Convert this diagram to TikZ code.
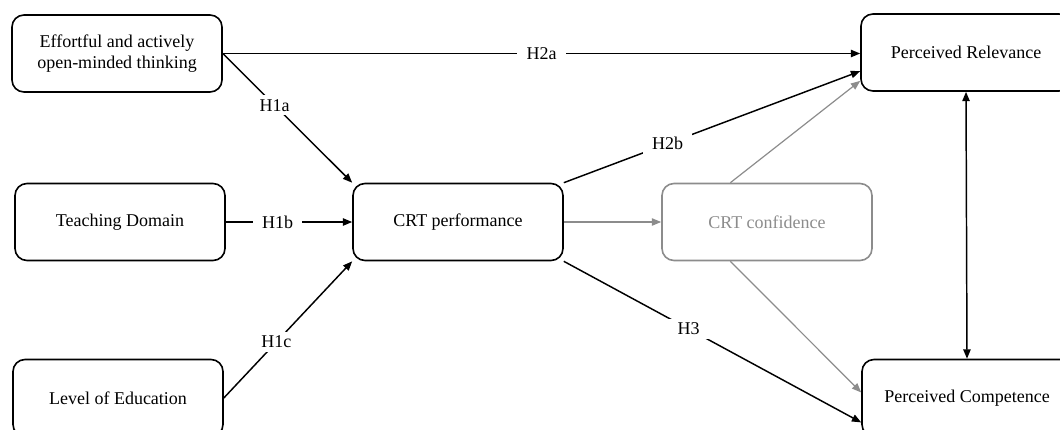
\documentclass[tikz,border=0pt]{standalone}
\usepackage{fontspec}
\setmainfont{Liberation Serif}
\usepackage{xcolor}
\usetikzlibrary{arrows.meta,positioning}
\definecolor{crtgrey}{RGB}{140,140,140}

\begin{document}
\begin{tikzpicture}[x=0.75pt,y=-0.75pt]
			\tikzstyle{every node}=[font=\fontsize{13.5}{15.5}\selectfont]
			\tikzstyle{varbox}=[draw, line width=1.2pt, rounded corners=9pt, minimum width=157.5pt, minimum height=57.75pt, align=center, inner sep=0pt]
			\tikzstyle{greybox}=[varbox, draw=crtgrey, text=crtgrey]
			\tikzstyle{hyparrow}=[line width=1.1pt, -{Triangle[length=7pt,width=5.5pt]}]
			\tikzstyle{greyarrow}=[line width=0.9pt, crtgrey, -{Triangle[length=7pt,width=5.5pt]}]
			\tikzstyle{hyplabel}=[fill=white, inner xsep=7pt, inner ysep=3pt]
			\path[use as bounding box] (0,0) rectangle (1060,429);
			\clip (0,0) rectangle (1060,429);
			\node [varbox] (eff) at (117,53.5) {Effortful and actively\\open-minded thinking};
			\node [varbox] (teach) at (120,222) {Teaching Domain};
			\node [varbox] (level) at (118,398) {Level of Education};
			\node [varbox] (crtp) at (458,222) {CRT performance};
			\node [greybox] (crtc) at (767,222) {CRT confidence};
			\node [varbox] (rel) at (966,52.5) {Perceived Relevance};
			\node [varbox] (comp) at (967,398) {Perceived Competence};
			\draw [hyparrow] (eff.east) -- node [hyplabel] {H2a} (eff.east -| rel.west);
			\draw [hyparrow] (eff.east) -- node [hyplabel, pos=0.4] {H1a} (crtp.north west);
			\draw [hyparrow] (teach.east) -- node [hyplabel, pos=0.41] {H1b} (crtp.west);
			\draw [hyparrow] (level.east) -- node [hyplabel, pos=0.41] {H1c} (crtp.south west);
			\draw [hyparrow] (crtp.north east) -- node [hyplabel, pos=0.35] {H2b} (rel.190);
			\draw [hyparrow] (crtp.south east) -- node [hyplabel, pos=0.42] {H3} (comp.193);
			\draw [greyarrow] (crtp.east) -- (crtc.west);
			\draw [greyarrow] (crtc.133) -- (rel.195);
			\draw [greyarrow] (crtc.227) -- (comp.177);
			\draw [line width=1.1pt, {Triangle[length=7pt,width=5.5pt]}-{Triangle[length=7pt,width=5.5pt]}] (rel.south) -- (comp.north);
		\end{tikzpicture}
\end{document}
